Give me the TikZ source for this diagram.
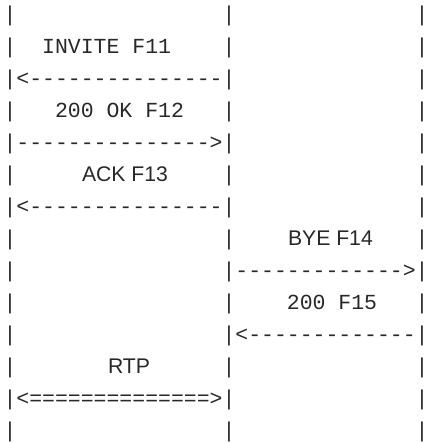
\documentclass[tikz,border=0pt]{standalone}
\usepackage{fontspec}
\newfontfamily\monofam[Ligatures=TeXOff]{Liberation Mono}
\newfontfamily\sansfam{Liberation Sans}
\definecolor{ink}{RGB}{40,40,40}
\tikzset{
  mono/.style={font=\monofam\fontsize{21.47}{32}\selectfont, text=ink, inner sep=0pt, outer sep=0pt, anchor=base west},
  lifebar/.style={font=\monofam\fontsize{21.47}{32}\selectfont, text=ink, inner sep=0pt, outer sep=0pt, anchor=base},
  sanslabel/.style={font=\sansfam\fontsize{21.2}{32}\selectfont, text=ink, inner sep=0pt, outer sep=0pt, anchor=base west}
}
% column x (left edge / centre), line baseline y
\newcommand\colx[1]{{(3.56+#1*12.88)*1pt}}
\newcommand\colc[1]{{(3.56+(#1+0.5)*12.88)*1pt}}
\newcommand\liney[1]{{-(21+(#1-1)*32)*1pt}}
\begin{document}
\begin{tikzpicture}[x=1pt,y=1pt]
\useasboundingbox (0,0) rectangle (425,-442);
% vertical lifelines drawn as ASCII bars
\foreach \k in {1,...,14}{
  \node[lifebar] (barA\k) at (\colc{0},\liney{\k}) {\makebox[0pt]{|}};
  \node[lifebar] (barB\k) at (\colc{17},\liney{\k}) {\makebox[0pt]{|}};
  \node[lifebar] (barC\k) at (\colc{32},\liney{\k}) {\makebox[0pt]{|}};
}
% messages
\node[mono] (lblF11) at (\colx{3},\liney{2}) {INVITE F11};
\node[mono] (arrF11) at (\colx{1},\liney{3}) {<---------------};
\node[mono] (lblF12) at (\colx{4},\liney{4}) {200 OK F12};
\node[mono] (arrF12) at (\colx{1},\liney{5}) {--------------->};
\node[sanslabel] (lblF13) at (82,\liney{6}) {ACK F13};
\node[mono] (arrF13) at (\colx{1},\liney{7}) {<---------------};
\node[sanslabel] (lblF14) at (288,\liney{8}) {BYE F14};
\node[mono] (arrF14) at (\colx{18},\liney{9}) {------------->};
\node[mono] (lblF15) at (\colx{22},\liney{10}) {200 F15};
\node[mono] (arrF15) at (\colx{18},\liney{11}) {<-------------};
\node[sanslabel] (lblRTP) at (108,\liney{12}) {RTP};
\node[mono] (arrRTP) at (\colx{1},\liney{13}) {<==============>};
\end{tikzpicture}
\end{document}
